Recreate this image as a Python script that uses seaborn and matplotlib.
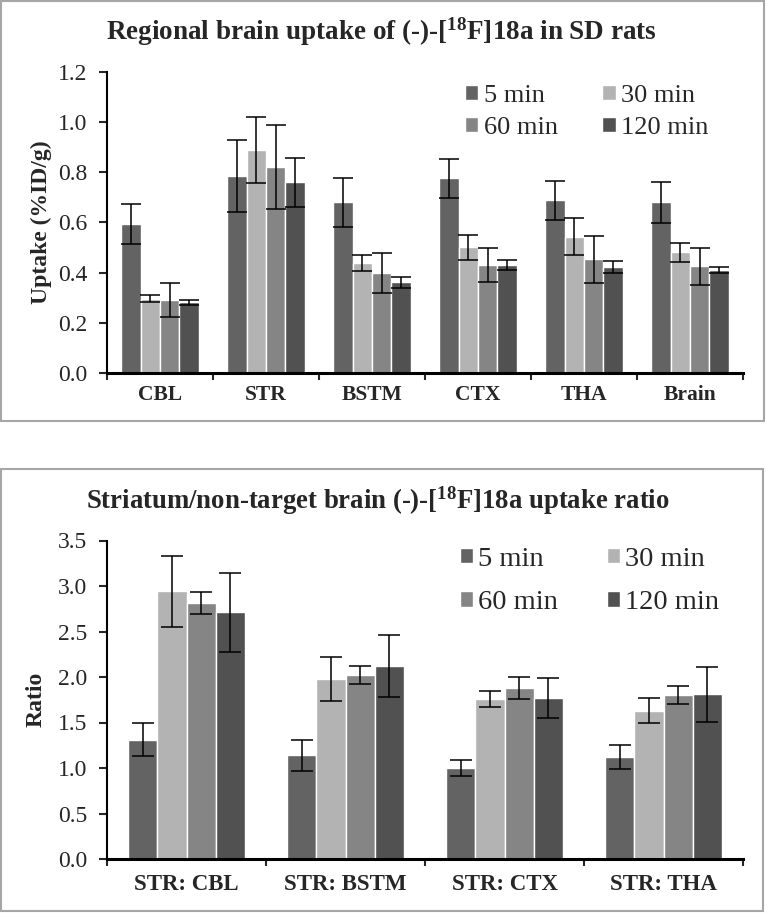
import matplotlib
matplotlib.use("Agg")
import matplotlib.pyplot as plt
import matplotlib.patches as mpatches
import seaborn as sns
import pandas as pd

sns.set_style("white")
plt.rcParams['font.family'] = ['Liberation Serif', 'DejaVu Serif']
plt.rcParams['mathtext.fontset'] = 'custom'
plt.rcParams['mathtext.rm'] = 'Liberation Serif'
plt.rcParams['mathtext.bf'] = 'Liberation Serif:bold'

times = ['5 min', '30 min', '60 min', '120 min']
colors = ['#636363', '#b3b3b3', '#858585', '#515151']

# panel 1: regional uptake (%ID/g)
regions = ['CBL', 'STR', 'BSTM', 'CTX', 'THA', 'Brain']
uptake_5 = [0.593, 0.785, 0.681, 0.777, 0.689, 0.681]
uptake_30 = [0.297, 0.888, 0.440, 0.501, 0.543, 0.481]
uptake_60 = [0.290, 0.820, 0.400, 0.430, 0.453, 0.426]
uptake_120 = [0.282, 0.761, 0.362, 0.431, 0.422, 0.410]
uptake_err_5 = [0.080, 0.142, 0.098, 0.078, 0.078, 0.082]
uptake_err_30 = [0.015, 0.131, 0.032, 0.051, 0.074, 0.039]
uptake_err_60 = [0.067, 0.167, 0.080, 0.067, 0.095, 0.074]
uptake_err_120 = [0.011, 0.098, 0.022, 0.021, 0.025, 0.012]

# panel 2: striatum / non-target ratios
pairs = ['STR: CBL', 'STR: BSTM', 'STR: CTX', 'STR: THA']
ratio_5 = [1.31, 1.14, 1.00, 1.12]
ratio_30 = [2.94, 1.98, 1.76, 1.63]
ratio_60 = [2.81, 2.02, 1.88, 1.80]
ratio_120 = [2.71, 2.12, 1.77, 1.81]
ratio_err_5 = [0.18, 0.17, 0.09, 0.13]
ratio_err_30 = [0.39, 0.24, 0.09, 0.14]
ratio_err_60 = [0.12, 0.10, 0.12, 0.10]
ratio_err_120 = [0.43, 0.34, 0.22, 0.30]


def long_df(cats, vals, errs):
    rows = []
    for t, v, e in zip(times, vals, errs):
        for c, vv, ee in zip(cats, v, e):
            rows.append({'cat': c, 'time': t, 'val': vv, 'err': ee})
    return pd.DataFrame(rows)


def draw_panel(ax, df, cats, ylim, ystep, ylabel, capsize, xfs, lab_pad):
    sns.barplot(data=df, x='cat', y='val', hue='time', order=cats,
                hue_order=times, palette=colors, width=0.73, saturation=1,
                errorbar=None, ax=ax)
    # error bars on top of each bar
    for t, cont in zip(times, ax.containers):
        sub = df[df['time'] == t].set_index('cat').loc[cats]
        xs = [p.get_x() + p.get_width() / 2 for p in cont.patches]
        ax.errorbar(xs, sub['val'], yerr=sub['err'], fmt='none', ecolor='black',
                    elinewidth=1.1, capsize=capsize, capthick=1.1)
    n = len(cats)
    ax.set_xlim(-0.5, n - 0.5)
    ax.set_ylim(*ylim)
    yt = [round(i * ystep, 2) for i in range(int(round(ylim[1] / ystep)) + 1)]
    ax.set_yticks(yt)
    ax.set_yticklabels([f'{v:.1f}' for v in yt], fontsize=17)
    ax.set_xticks(range(n))
    ax.set_xticklabels(cats, fontsize=xfs, fontweight='bold')
    ax.set_xticks([i - 0.5 for i in range(n + 1)], minor=True)
    ax.tick_params(axis='x', which='major', length=0, pad=lab_pad)
    ax.tick_params(axis='x', which='minor', length=5, width=1.5, direction='out', bottom=True)
    ax.tick_params(axis='y', length=6, width=1.5, direction='out', pad=8, left=True)
    ax.set_xlabel('')
    ax.set_ylabel(ylabel, fontsize=17, fontweight='bold')
    for s in ['top', 'right']:
        ax.spines[s].set_visible(False)
    ax.spines['left'].set_linewidth(1.5)
    ax.spines['bottom'].set_linewidth(2.2)
    ax.spines['left'].set_color('black')
    ax.spines['bottom'].set_color('black')


def row_legend(ax, **kw):
    # legend filled row by row: 5 | 30 / 60 | 120
    h, l = ax.get_legend_handles_labels()
    order = [0, 2, 1, 3]
    ax.legend([h[i] for i in order], [l[i] for i in order], ncol=2, frameon=False,
              loc='upper left', borderaxespad=0, borderpad=0, handletextpad=0.2,
              columnspacing=1.7, **kw)


fig = plt.figure(figsize=(7.66, 9.13), dpi=100)
W, H = 766, 913

# outer frames
for (x0, y0, x1, y1) in [(1, 1, 764, 421), (1, 469, 763, 911)]:
    fig.patches.append(mpatches.Rectangle((x0 / W, 1 - y1 / H), (x1 - x0) / W, (y1 - y0) / H,
                                          transform=fig.transFigure, fill=False,
                                          edgecolor='#a6a6a6', linewidth=1.5))

ax1 = fig.add_axes([107 / W, 1 - 373 / H, 636 / W, 301 / H])
df1 = long_df(regions, [uptake_5, uptake_30, uptake_60, uptake_120],
              [uptake_err_5, uptake_err_30, uptake_err_60, uptake_err_120])
draw_panel(ax1, df1, regions, (0, 1.2), 0.2, 'Uptake (%ID/g)', 7, 15.5, 9)
ax1.yaxis.set_label_coords(-0.087, 0.5)
row_legend(ax1, fontsize=19, bbox_to_anchor=(0.563, 0.958),
           handlelength=0.5, handleheight=0.5, labelspacing=0.4)

ax2 = fig.add_axes([107 / W, 1 - 859 / H, 636 / W, 318.5 / H])
df2 = long_df(pairs, [ratio_5, ratio_30, ratio_60, ratio_120],
              [ratio_err_5, ratio_err_30, ratio_err_60, ratio_err_120])
draw_panel(ax2, df2, pairs, (0, 3.5), 0.5, 'Ratio', 8, 16.5, 11)
ax2.yaxis.set_label_coords(-0.095, 0.5)
row_legend(ax2, fontsize=20.5, bbox_to_anchor=(0.555, 0.981),
           handlelength=0.45, handleheight=0.45, labelspacing=0.65)

fig.text(0.498, 1 - 40 / H, r'Regional brain uptake of (-)-[$\mathbf{^{18}}$F]18a in SD rats',
         ha='center', va='baseline', fontsize=19.5, fontweight='bold')
fig.text(0.4935, 1 - 509 / H, r'Striatum/non-target brain (-)-[$\mathbf{^{18}}$F]18a uptake ratio',
         ha='center', va='baseline', fontsize=19.3, fontweight='bold')

fig.savefig('out.png', dpi=100)
